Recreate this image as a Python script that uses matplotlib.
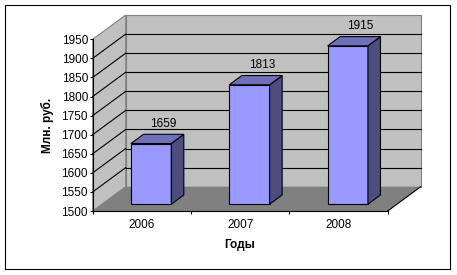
import numpy as np
import matplotlib.pyplot as plt
from matplotlib.patches import Polygon, Rectangle
from matplotlib.transforms import IdentityTransform

years = ['2006', '2007', '2008']
values = [1659, 1813, 1915]
y_ticks = list(range(1500, 1951, 50))

plt.rcParams['font.family'] = ['Liberation Sans', 'DejaVu Sans']
plt.rcParams['font.size'] = 8.5

W, H = 457, 275
DX, DY = 33, 24.3          # depth offset of the back wall, pixels
F0, F1 = 0.28, 0.66        # bar depth (front / back fraction)
BW = 0.41                  # bar width in category units
LW = 0.8

fig = plt.figure(figsize=(W / 100, H / 100), dpi=100)
ax = fig.add_axes([92.7 / W, (H - 211) / H, 295 / W, 171.7 / H])
ax.set_xlim(-0.5, 2.5)
ax.set_ylim(1500, 1950)
ax.patch.set_visible(False)
for s in ['top', 'right']:
    ax.spines[s].set_visible(False)
for s in ['left', 'bottom']:
    ax.spines[s].set_linewidth(LW)
    ax.spines[s].set_zorder(10)

ax.set_yticks(y_ticks)
ax.tick_params(axis='y', length=2.2, width=LW, pad=1.2)
ax.set_xticks([-0.5, 0.5, 1.5, 2.5])
ax.set_xticklabels([])
ax.tick_params(axis='x', which='major', length=2.2, width=LW)
ax.set_xticks(range(len(years)), minor=True)
ax.set_xticklabels(years, minor=True)
ax.tick_params(axis='x', which='minor', length=0, pad=6)

ident = IdentityTransform()


def P(x, y, f):
    px, py = ax.transData.transform((x, y))
    return (px + f * DX, py + f * DY)


def poly(pts, fc, ec, z):
    ax.add_patch(Polygon(pts, closed=True, fc=fc, ec=ec, lw=LW,
                         transform=ident, clip_on=False, zorder=z))


def line(a, b, c, z):
    ax.add_line(plt.Line2D([a[0], b[0]], [a[1], b[1]], color=c, lw=LW,
                           transform=ident, clip_on=False, zorder=z))


x0, x1 = -0.5, 2.5
y0, y1 = y_ticks[0], y_ticks[-1]

# walls
poly([P(x0, y0, 1), P(x1, y0, 1), P(x1, y1, 1), P(x0, y1, 1)], '#C0C0C0', '#808080', 1)
poly([P(x0, y0, 0), P(x0, y0, 1), P(x0, y1, 1), P(x0, y1, 0)], '#C0C0C0', '#808080', 1)

# gridlines
for v in y_ticks[1:-1]:
    line(P(x0, v, 1), P(x1, v, 1), 'black', 2)
    line(P(x0, v, 0), P(x0, v, 1), 'black', 2)

# floor
poly([P(x0, y0, 0), P(x1, y0, 0), P(x1, y0, 1), P(x0, y0, 1)], '#808080', 'none', 3)
line(P(x1, y0, 0), P(x1, y0, 1), 'black', 3)

# bars
for i, v in enumerate(values):
    l, r = i - BW / 2, i + BW / 2
    poly([P(l, y0, F0), P(r, y0, F0), P(r, v, F0), P(l, v, F0)], '#9999FF', 'black', 5)
    poly([P(r, y0, F0), P(r, y0, F1), P(r, v, F1), P(r, v, F0)], '#4D4D80', 'black', 5)
    poly([P(l, v, F0), P(r, v, F0), P(r, v, F1), P(l, v, F1)], '#7070BA', 'black', 5)
    tx, ty = P(i, v, F1)
    fig.text(tx, ty + 10.5, str(v), transform=ident, ha='center', va='center')

fig.text(47.3, H - 125, 'Млн. руб.', transform=ident, rotation=90,
         ha='center', va='center', fontweight='bold')
fig.text(239.5, H - 245, 'Годы', transform=ident, ha='center', va='center',
         fontweight='bold')

fig.add_artist(Rectangle((5, 6), 444.5, 264, transform=ident, fill=False,
                         ec='black', lw=LW))

fig.savefig('out.png', dpi=100)
